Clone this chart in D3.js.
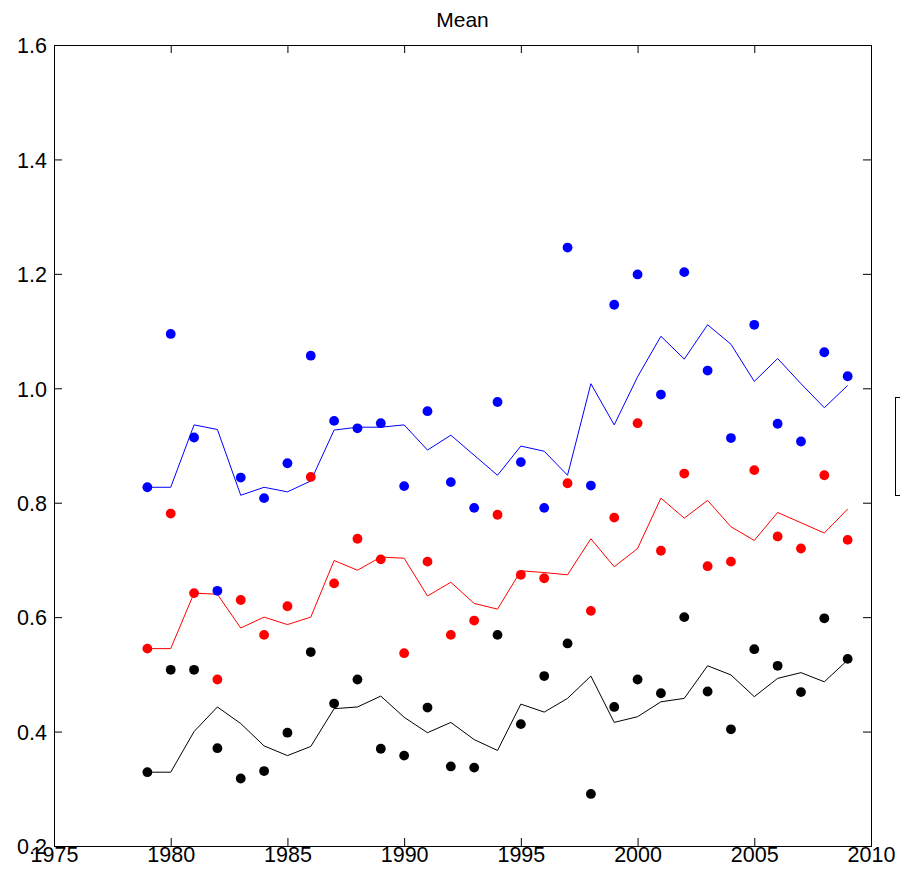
<!DOCTYPE html>
<html lang="en">
  <head>
    <title>Mean</title>
    <style>
      body { margin: 0; background: #fff; }
      svg text { font-family: "Liberation Sans", Arial, sans-serif; fill: #000; }
    </style>
  </head>
  <body>
    <main>
      <div id="viz"></div>
    </main>
    <script src="https://unpkg.com/d3@7/dist/d3.min.js"></script>
    <script>
      const years = [1979, 1980, 1981, 1982, 1983, 1984, 1985, 1986, 1987, 1988, 1989, 1990, 1991, 1992, 1993, 1994,
        1995, 1996, 1997, 1998, 1999, 2000, 2001, 2002, 2003, 2004, 2005, 2006, 2007, 2008, 2009]

      // dots
      const blueDots = [0.827, 1.095, 0.914, 0.646, 0.844, 0.808, 0.869, 1.057, 0.943, 0.930, 0.939, 0.829, 0.960, 0.836, 0.791, 0.976,
        0.871, 0.791, 1.246, 0.830, 1.146, 1.199, 0.989, 1.203, 1.031, 0.913, 1.111, 0.938, 0.907, 1.063, 1.021]
      const redDots = [0.545, 0.781, 0.642, 0.491, 0.630, 0.569, 0.619, 0.845, 0.659, 0.737, 0.701, 0.537, 0.697, 0.569, 0.594, 0.779,
        0.674, 0.668, 0.834, 0.611, 0.774, 0.939, 0.716, 0.851, 0.689, 0.697, 0.857, 0.741, 0.720, 0.848, 0.735]
      const blackDots = [0.329, 0.508, 0.508, 0.371, 0.318, 0.331, 0.398, 0.539, 0.449, 0.491, 0.370, 0.358, 0.442, 0.339, 0.337, 0.569,
        0.413, 0.497, 0.554, 0.291, 0.443, 0.491, 0.467, 0.600, 0.470, 0.404, 0.544, 0.515, 0.469, 0.598, 0.527]

      // smoothed lines
      const blueLine = [0.827, 0.827, 0.936, 0.928, 0.813, 0.827, 0.819, 0.838, 0.927, 0.932, 0.932, 0.936, 0.892, 0.918, 0.883, 0.848,
        0.899, 0.890, 0.848, 1.008, 0.936, 1.020, 1.091, 1.051, 1.111, 1.077, 1.012, 1.052, 1.008, 0.966, 1.005]
      const redLine = [0.545, 0.545, 0.642, 0.640, 0.581, 0.600, 0.587, 0.600, 0.699, 0.682, 0.705, 0.703, 0.637, 0.661, 0.624, 0.614,
        0.681, 0.678, 0.674, 0.737, 0.688, 0.720, 0.808, 0.773, 0.804, 0.758, 0.734, 0.783, 0.765, 0.747, 0.789]
      const blackLine = [0.329, 0.329, 0.400, 0.443, 0.414, 0.375, 0.358, 0.374, 0.440, 0.443, 0.462, 0.425, 0.398, 0.416, 0.386, 0.367,
        0.448, 0.434, 0.458, 0.497, 0.416, 0.426, 0.452, 0.458, 0.515, 0.499, 0.461, 0.493, 0.503, 0.487, 0.525]

      const xTicks = [1975, 1980, 1985, 1990, 1995, 2000, 2005, 2010]
      const yTicks = [0.2, 0.4, 0.6, 0.8, 1, 1.2, 1.4, 1.6]

      const series = [
        { dots: blueDots, line: blueLine, color: '#0000ff' },
        { dots: redDots, line: redLine, color: '#ff0000' },
        { dots: blackDots, line: blackLine, color: '#000000' }
      ]

      const width = 900
      const height = 878
      const margin = { top: 45, right: 29, bottom: 32, left: 54 }

      const svg = d3.select('#viz').append('svg')
        .attr('width', width)
        .attr('height', height)

      const x = d3.scaleLinear().domain([1975, 2010]).range([margin.left, width - margin.right])
      const y = d3.scaleLinear().domain([0.2, 1.6]).range([height - margin.bottom, margin.top])

      const plot = svg.append('g')

      const line = d3.line()
        .x((d, i) => x(years[i]))
        .y(d => y(d))

      series.forEach(s => {
        plot.append('path')
          .datum(s.line)
          .attr('d', line)
          .attr('fill', 'none')
          .attr('stroke', s.color)
          .attr('stroke-width', 1)
          .attr('stroke-linejoin', 'miter')
      })

      series.forEach(s => {
        plot.selectAll(null)
          .data(s.dots)
          .enter()
            .append('circle')
              .attr('cx', (d, i) => x(years[i]))
              .attr('cy', d => y(d))
              .attr('r', 4.9)
              .attr('fill', s.color)
      })

      // axes box with inward ticks on every side
      const tickLen = 8
      const bottomAxis = d3.axisBottom(x).tickValues(xTicks).tickFormat(d3.format('d')).tickSizeInner(-tickLen).tickSizeOuter(0).tickPadding(tickLen + 3)
      const topAxis = d3.axisTop(x).tickValues(xTicks).tickFormat('').tickSizeInner(-tickLen).tickSizeOuter(0)
      const leftAxis = d3.axisLeft(y).tickValues(yTicks).tickFormat(d3.format('.1f')).tickSizeInner(-tickLen).tickSizeOuter(0).tickPadding(tickLen + 6)
      const rightAxis = d3.axisRight(y).tickValues(yTicks).tickFormat('').tickSizeInner(-tickLen).tickSizeOuter(0)

      const styleAxis = g => {
        g.select('.domain').remove()
        g.selectAll('line').attr('stroke', '#000')
        g.selectAll('text').attr('font-size', 21.5).attr('fill', '#000')
      }

      const gb = svg.append('g').attr('transform', `translate(0,${height - margin.bottom})`).call(bottomAxis).call(styleAxis)
      gb.selectAll('text').attr('dy', '0.71em').attr('y', 1)
      svg.append('g').attr('transform', `translate(0,${margin.top})`).call(topAxis).call(styleAxis)
      const gl = svg.append('g').attr('transform', `translate(${margin.left},0)`).call(leftAxis).call(styleAxis)
      gl.selectAll('text').attr('x', -7).attr('dy', '0.36em')
      svg.append('g').attr('transform', `translate(${width - margin.right},0)`).call(rightAxis).call(styleAxis)

      svg.append('rect')
        .attr('x', margin.left + 0.5)
        .attr('y', margin.top + 0.5)
        .attr('width', width - margin.left - margin.right)
        .attr('height', height - margin.top - margin.bottom)
        .attr('fill', 'none')
        .attr('stroke', '#000')

      svg.append('text')
        .attr('x', (margin.left + width - margin.right) / 2)
        .attr('y', 27)
        .attr('text-anchor', 'middle')
        .attr('font-size', 21)
        .text('Mean')

      // legend box, mostly cut off by the right edge
      svg.append('rect')
        .attr('x', 895.5)
        .attr('y', 397.5)
        .attr('width', 120)
        .attr('height', 98)
        .attr('fill', '#fff')
        .attr('stroke', '#000')
    </script>
  </body>
</html>
